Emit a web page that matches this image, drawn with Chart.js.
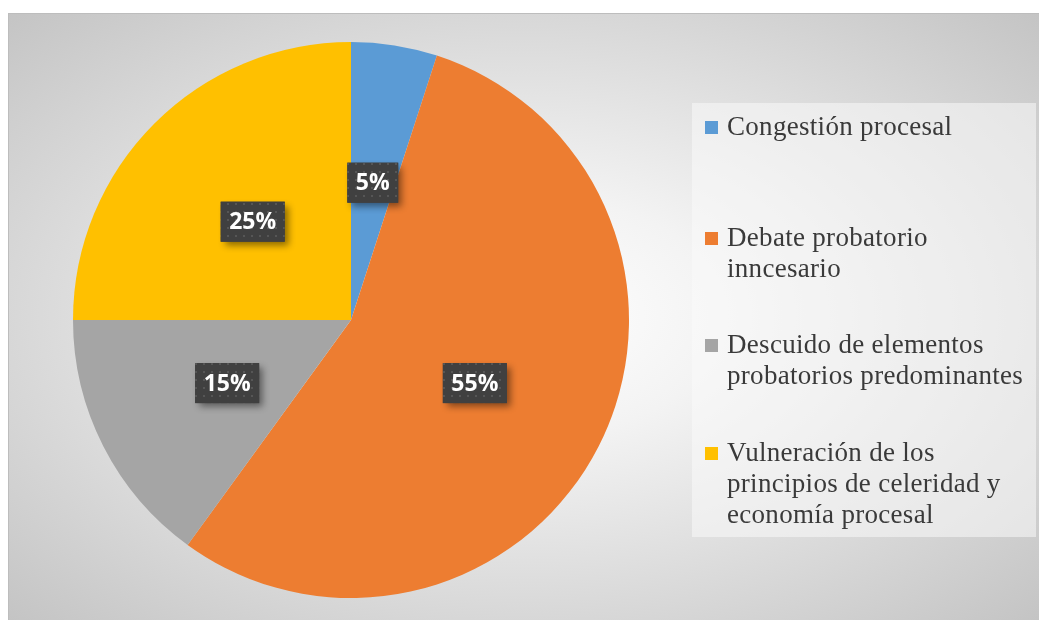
<!DOCTYPE html>
<html>
<head>
<meta charset="utf-8">
<script src="https://cdn.jsdelivr.net/npm/chart.js@4"></script>
<style>
  html, body { margin: 0; padding: 0; background: #ffffff; }
  #wrap { position: relative; width: 1039px; height: 621px; overflow: hidden; }
  #frame {
    position: absolute; left: 8px; top: 13px; width: 1031px; height: 607px;
    background: radial-gradient(ellipse farthest-corner at 50% 50%, #ffffff 0%, #f3f3f3 28%, #c4c4c4 100%);
    box-shadow: inset 1px 1px 0 #bdbdbd;
  }
  #chartBox { position: absolute; left: 0; top: 0; width: 1039px; height: 621px; }
  #legend {
    position: absolute; left: 692px; top: 103px; width: 344px; height: 434px;
    background: rgba(250,250,250,0.55);
    font-family: "Liberation Serif", "Times New Roman", serif;
    font-size: 27px; line-height: 31px; color: #3a3a3a; letter-spacing: 0.3px;
  }
  .item { position: absolute; left: 35px; width: 305px; }
  .mark { position: absolute; left: -22px; top: 10px; width: 13px; height: 13px; }
</style>
</head>
<body>
<div id="wrap">
  <div id="frame"></div>
  <div id="chartBox"><canvas id="c" width="1039" height="621"></canvas></div>
  <div id="legend"></div>
</div>
<script>
const categories = [
  "Congestión procesal",
  "Debate probatorio inncesario",
  "Descuido de elementos probatorios predominantes",
  "Vulneración de los principios de celeridad y economía procesal"
];
const values = [5, 55, 15, 25];
const colors = ["#5B9BD5", "#ED7D31", "#A5A5A5", "#FFC000"];
const legendTops = [8, 119, 226, 334];

// HTML legend built from the data arrays
const lg = document.getElementById('legend');
categories.forEach((c, i) => {
  const d = document.createElement('div');
  d.className = 'item';
  d.style.top = legendTops[i] + 'px';
  const m = document.createElement('span');
  m.className = 'mark';
  m.style.background = colors[i];
  d.appendChild(m);
  d.appendChild(document.createTextNode(c));
  lg.appendChild(d);
});

// dotted dark pattern for data labels
function makePattern(ctx) {
  const p = document.createElement('canvas');
  p.width = 8; p.height = 8;
  const pc = p.getContext('2d');
  pc.fillStyle = '#404040';
  pc.fillRect(0, 0, 8, 8);
  pc.fillStyle = '#565656';
  pc.fillRect(3, 3, 2, 2);
  return ctx.createPattern(p, 'repeat');
}

const labelPlugin = {
  id: 'boxLabels',
  afterDatasetsDraw(chart) {
    const ctx = chart.ctx;
    const meta = chart.getDatasetMeta(0);
    const total = values.reduce((a, b) => a + b, 0);
    const pat = makePattern(ctx);
    ctx.save();
    ctx.font = 'bold 23px "Open Sans", "DejaVu Sans", sans-serif';
    meta.data.forEach((arc, i) => {
      const pos = arc.tooltipPosition();
      const txt = Math.round(values[i] / total * 100) + '%';
      const tw = ctx.measureText(txt).width;
      const w = tw + 17, h = 40;
      const x = pos.x - w / 2, y = pos.y - h / 2;
      ctx.save();
      ctx.shadowColor = 'rgba(0,0,0,0.45)';
      ctx.shadowBlur = 7;
      ctx.shadowOffsetX = 4;
      ctx.shadowOffsetY = 4;
      ctx.fillStyle = '#404040';
      ctx.fillRect(x, y, w, h);
      ctx.restore();
      ctx.fillStyle = pat;
      ctx.fillRect(x, y, w, h);
      ctx.fillStyle = '#ffffff';
      ctx.textAlign = 'center';
      ctx.textBaseline = 'middle';
      ctx.fillText(txt, pos.x, pos.y + 1);
    });
    ctx.restore();
  }
};

new Chart(document.getElementById('c'), {
  type: 'pie',
  data: {
    labels: categories,
    datasets: [{
      data: values,
      backgroundColor: colors,
      borderWidth: 0
    }]
  },
  options: {
    responsive: false,
    animation: false,
    layout: { padding: { left: 73, top: 42, right: 410, bottom: 23 } },
    plugins: {
      legend: { display: false },
      tooltip: { enabled: false }
    }
  },
  plugins: [labelPlugin]
});
</script>
</body>
</html>
